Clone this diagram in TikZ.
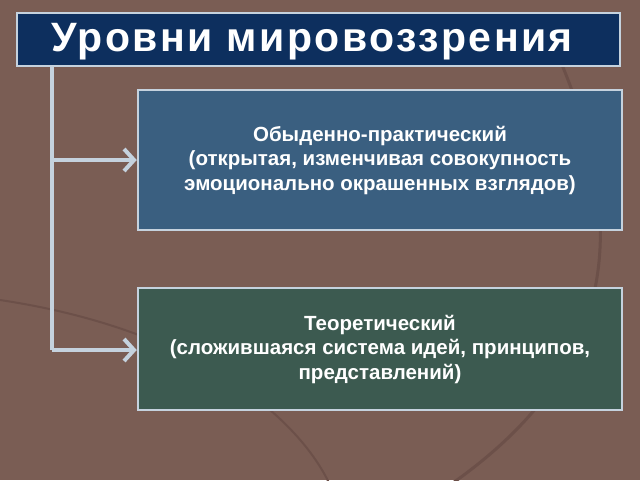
\documentclass[tikz,border=0pt]{standalone}
\usepackage{fontspec}
\setmainfont{Liberation Sans}
\usetikzlibrary{arrows.meta}
\definecolor{bg}{HTML}{7A5D54}
\definecolor{bgd}{HTML}{6C5049}
\definecolor{titlec}{HTML}{0D2F5E}
\definecolor{edge}{HTML}{C5D2DE}
\definecolor{boxa}{HTML}{3A5F80}
\definecolor{boxb}{HTML}{3C5A50}
\begin{document}
\begin{tikzpicture}[x=1pt,y=-1pt,
  box/.style={draw=edge,line width=2.5pt,minimum width=484pt,align=center,text=white,font=\fontsize{20.5}{24.5}\selectfont\bfseries,inner sep=0pt},
  conn/.style={draw=edge,line width=4pt},
  tip/.style={-{Straight Barb[length=10pt,width=22pt,line width=4pt]}}]
\useasboundingbox (0,0) rectangle (640,480);
\fill[bg] (0,0) rectangle (640,480);
\draw[bgd,line width=3pt] (450,485) .. controls (600,380) and (640,250) .. (560,60);
\draw[bgd,line width=2pt] (0,300) .. controls (200,330) and (300,420) .. (330,485);
\node[draw=edge,line width=2.5pt,fill=titlec,minimum width=603pt,minimum height=53pt,inner sep=0pt] (title) at (318.5,39.5) {};
\node[text=white,font=\fontsize{41}{41}\selectfont\bfseries,inner sep=0pt] (tt) at (312,42) {\addfontfeature{LetterSpace=6}Уровни мировоззрения};
\node[box,fill=boxa,minimum height=140pt] (b1) at (380,160) {Обыденно-практический\\(открытая, изменчивая совокупность\\эмоционально окрашенных взглядов)};
\node[box,fill=boxb,minimum height=122pt] (b2) at (380,349) {Теоретический\\(сложившаяся система идей, принципов,\\представлений)};
\coordinate (top) at (52,66);
\coordinate (j1) at (52,160);
\coordinate (j2) at (52,350);
\draw[conn] (top) -- (j2);
\draw[conn,tip] (j1) -- (b1.west);
\draw[conn,tip] (j2) -- (b2.west |- j2);
\end{tikzpicture}
\end{document}
